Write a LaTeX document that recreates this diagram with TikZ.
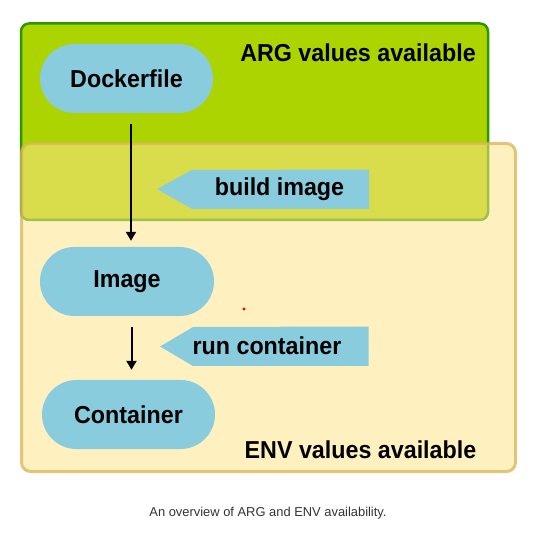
\documentclass[tikz,border=0pt]{standalone}
\usepackage{fontspec}
\setmainfont{Liberation Sans}
\newfontfamily\labfont{Liberation Sans}[FakeStretch=0.95]
\newfontfamily\capfont{Liberation Sans}
\usetikzlibrary{arrows.meta}
\definecolor{argfill}{HTML}{ACD400}
\definecolor{argdraw}{HTML}{2E9600}
\definecolor{envfill}{HTML}{FFE38A}
\definecolor{envdraw}{HTML}{D6B656}
\definecolor{blue1}{HTML}{88CCDD}
\definecolor{captext}{HTML}{333333}
\begin{document}
\begin{tikzpicture}[x=1pt,y=-1pt,
  lab/.style={font=\labfont\bfseries\fontsize{24.5}{28}\selectfont, text=black, inner sep=0pt, anchor=base},
  stadium/.style={fill=blue1, draw=none, rounded corners=34.5pt, minimum width=173pt, minimum height=69pt, inner sep=0pt, font=\labfont\bfseries\fontsize{24.5}{28}\selectfont},
  flow/.style={line width=2pt, -{Triangle[width=10pt,length=9pt]}},
  tagshape/.style={fill=blue1, draw=none}
]
\useasboundingbox (0,0) rectangle (546,534);
% ARG box
\node[draw=argdraw, line width=2.5pt, fill=argfill, rounded corners=8pt, minimum width=467pt, minimum height=196.5pt, inner sep=0pt] (argbox) at (254.5,121.75) {};
% ENV box (semi-transparent, over ARG box)
\node[draw=envdraw, draw opacity=0.75, fill=envfill, fill opacity=0.55, line width=3pt, rounded corners=9pt, minimum width=494pt, minimum height=328pt, inner sep=0pt] (envbox) at (268.5,307.5) {};
% titles
\node[lab] (argt) at (358,62) {ARG values available};
\node[lab] (envt) at (360.5,458) {ENV values available};
% nodes
\node[stadium] (dock) at (126.5,78.5) {Dockerfile};
\node[stadium, minimum width=174pt] (img) at (127,281.5) {Image};
\node[stadium] (cont) at (128.5,414.5) {Container};
% connectors
\draw[flow, shorten <=11pt, shorten >=6pt] ([xshift=4.5pt]dock.south) -- ([xshift=4.5pt]dock.south |- img.north);
\draw[flow, shorten <=11pt, shorten >=10pt] ([xshift=4.5pt]img.south) -- ([xshift=4.5pt]img.south |- cont.north);
% tags
\fill[tagshape] (157,189) -- (192,170) -- (369,169.5) -- (369,209) -- (192,209) -- cycle;
\node[lab] (bt) at (279.5,196) {build image};
\fill[tagshape] (160,346.5) -- (193,327) -- (368.5,326.5) -- (368.5,366) -- (193,366) -- cycle;
\node[lab] (rt) at (267,355) {run container};
% red dot
\fill[red] (244,309) circle (1.6pt);
% caption
\node[font=\capfont\fontsize{12.9}{15}\selectfont, text=captext, inner sep=0pt, anchor=base] (cap) at (268,516) {An overview of ARG and ENV availability.};
\end{tikzpicture}
\end{document}
